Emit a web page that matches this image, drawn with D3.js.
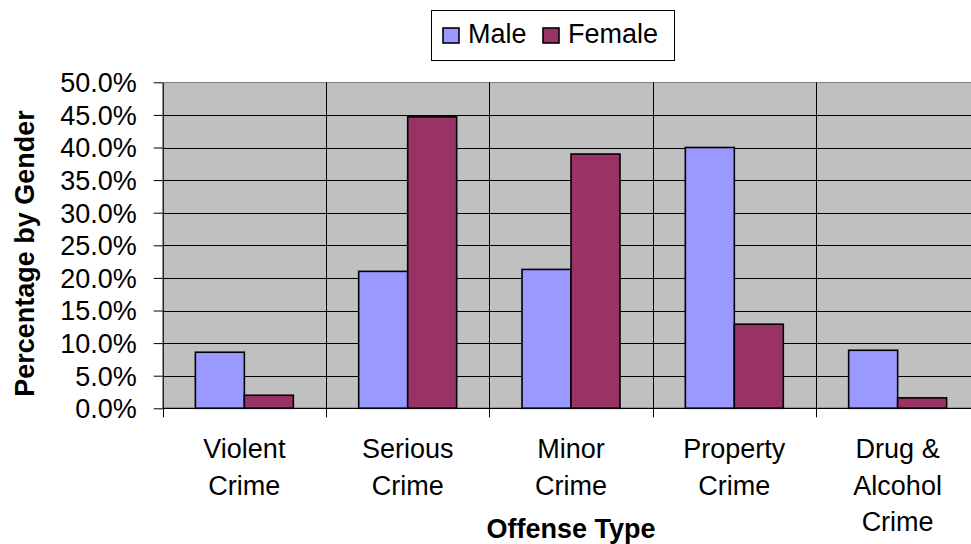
<!DOCTYPE html>
<html>
<head>
<meta charset="utf-8">
<script src="https://cdn.jsdelivr.net/npm/d3@7"></script>
<style>
html,body{margin:0;padding:0;background:#fff;}
svg{display:block;font-family:"Liberation Sans",Arial,sans-serif;}
</style>
</head>
<body>
<svg id="chart" width="971" height="544"></svg>
<script>
const categories = [["Violent","Crime"],["Serious","Crime"],["Minor","Crime"],["Property","Crime"],["Drug &","Alcohol","Crime"]];
const seriesNames = ["Male","Female"];
const maleValues = [8.6, 21.0, 21.3, 40.0, 8.9];
const femaleValues = [2.0, 44.7, 39.0, 12.9, 1.6];
const yTicks = [0,5,10,15,20,25,30,35,40,45,50];
const colors = {Male:"#9999FF", Female:"#993366"};

const svg = d3.select("#chart");
const L = 162.7, R = 979.3, T = 82.3, B = 408.3;
const fs = 27;

const catKeys = categories.map((c,i)=>i);
const x = d3.scaleBand().domain(catKeys).range([L,R]).padding(0);
const xs = d3.scaleBand().domain(seriesNames).range([0,x.bandwidth()]).paddingInner(0).paddingOuter(0.667);
const y = d3.scaleLinear().domain([0,50]).range([B,T]);

// plot background
svg.append("rect").attr("x",L).attr("y",T).attr("width",R-L).attr("height",B-T).attr("fill","#C0C0C0");

// horizontal gridlines
svg.append("g").selectAll("line").data(yTicks.slice(1)).join("line")
  .attr("x1",L).attr("x2",R)
  .attr("y1",d=>Math.round(y(d))+0.5).attr("y2",d=>Math.round(y(d))+0.5)
  .attr("stroke",d=>d===50?"#808080":"#000").attr("stroke-width",1);

// vertical category gridlines
const bounds = catKeys.slice(1).map(i=>x(i));
svg.append("g").selectAll("line").data(bounds).join("line")
  .attr("x1",d=>Math.round(d)+0.5).attr("x2",d=>Math.round(d)+0.5)
  .attr("y1",T).attr("y2",B)
  .attr("stroke","#000").attr("stroke-width",1);

// bars
const data = catKeys.map(i=>({i, vals:[{s:"Male",v:maleValues[i]},{s:"Female",v:femaleValues[i]}]}));
const g = svg.append("g");
g.selectAll("g").data(data).join("g")
  .attr("transform",d=>`translate(${x(d.i)},0)`)
  .selectAll("rect").data(d=>d.vals).join("rect")
  .attr("x",d=>xs(d.s)).attr("width",xs.bandwidth())
  .attr("y",d=>y(d.v)).attr("height",d=>B-y(d.v))
  .attr("fill",d=>colors[d.s]).attr("stroke","#000").attr("stroke-width",1.6);

// y axis
const yAxis = d3.axisLeft(y).tickValues(yTicks).tickSize(9).tickSizeOuter(0)
  .tickFormat(d=>d.toFixed(1)+"%");
const ya = svg.append("g").attr("transform",`translate(${L},0)`).call(yAxis);
ya.select(".domain").attr("stroke","#000").attr("stroke-width",1.2);
ya.selectAll(".tick line").attr("stroke","#000");
ya.selectAll(".tick text").attr("font-size",fs).attr("fill","#000")
  .attr("font-family","Liberation Sans, Arial, sans-serif").attr("x",-26).attr("dy","0.35em");

// x axis line and ticks
const xa = svg.append("g");
xa.append("line").attr("x1",L).attr("x2",R).attr("y1",B).attr("y2",B).attr("stroke","#000").attr("stroke-width",1.2);
xa.selectAll("line.t").data([L].concat(bounds)).join("line").attr("class","t")
  .attr("x1",d=>Math.round(d)+0.5).attr("x2",d=>Math.round(d)+0.5)
  .attr("y1",B).attr("y2",B+9).attr("stroke","#000");

// category labels
svg.append("g").selectAll("text").data(data).join("text")
  .attr("x",d=>x(d.i)+x.bandwidth()/2).attr("y",458)
  .attr("text-anchor","middle").attr("font-size",fs).attr("fill","#000")
  .each(function(d){
    const t = d3.select(this);
    categories[d.i].forEach((line,k)=>{
      t.append("tspan").attr("x",x(d.i)+x.bandwidth()/2).attr("y",458+k*36.7).text(line);
    });
  });

// axis titles
svg.append("text").attr("x",(L+R)/2).attr("y",538).attr("text-anchor","middle")
  .attr("font-size",fs).attr("font-weight","bold").text("Offense Type");
svg.append("text").attr("transform","translate(34,253.5) rotate(-90)").attr("text-anchor","middle")
  .attr("font-size",fs).attr("font-weight","bold").text("Percentage by Gender");

// legend
const lg = svg.append("g");
lg.append("rect").attr("x",431.5).attr("y",10.5).attr("width",243).attr("height",50).attr("fill","#fff").attr("stroke","#000").attr("stroke-width",1);
const legendItems = [{s:"Male",sx:443,tx:468},{s:"Female",sx:543,tx:568}];
lg.selectAll("rect.sw").data(legendItems).join("rect").attr("class","sw")
  .attr("x",d=>d.sx).attr("y",28).attr("width",16).attr("height",15)
  .attr("fill",d=>colors[d.s]).attr("stroke","#000").attr("stroke-width",1.6);
lg.selectAll("text").data(legendItems).join("text")
  .attr("x",d=>d.tx).attr("y",42.5).attr("font-size",fs).attr("fill","#000").text(d=>d.s);
</script>
</body>
</html>
